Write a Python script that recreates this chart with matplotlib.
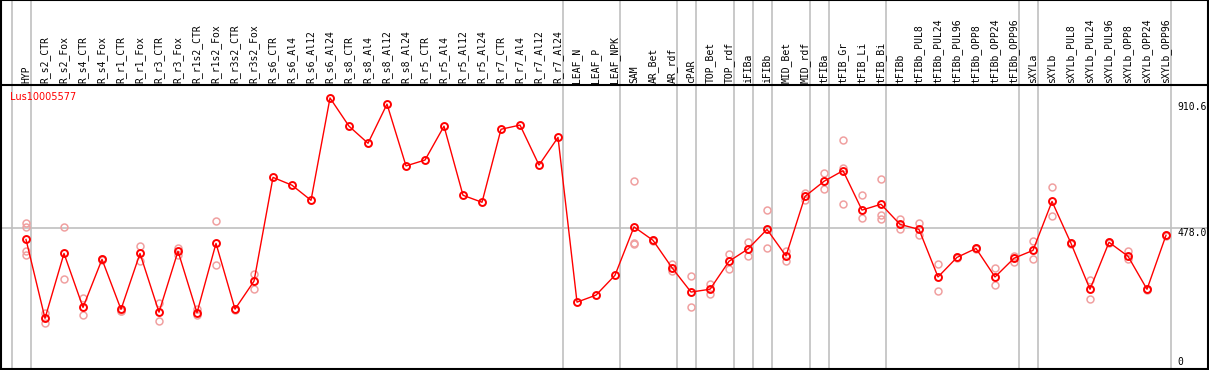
import numpy as np
from matplotlib import pyplot as plt

# Categories (x axis), in drawing order
samples = [
    "HYP", "R_s2_CTR", "R_s2_Fox", "R_s4_CTR", "R_s4_Fox", "R_r1_CTR", "R_r1_Fox",
    "R_r3_CTR", "R_r3_Fox", "R_r1s2_CTR", "R_r1s2_Fox", "R_r3s2_CTR", "R_r3s2_Fox",
    "R_s6_CTR", "R_s6_Al4", "R_s6_Al12", "R_s6_Al24", "R_s8_CTR", "R_s8_Al4",
    "R_s8_Al12", "R_s8_Al24", "R_r5_CTR", "R_r5_Al4", "R_r5_Al12", "R_r5_Al24",
    "R_r7_CTR", "R_r7_Al4", "R_r7_Al12", "R_r7_Al24", "LEAF_N", "LEAF_P", "LEAF_NPK",
    "SAM", "AR_Bet", "AR_rdf", "cPAR", "TOP_Bet", "TOP_rdf", "iFIBa", "iFIBb",
    "MID_Bet", "MID_rdf", "tFIBa", "tFIB_Gr", "tFIB_Li", "tFIB_Bi", "tFIBb",
    "tFIBb_PUL8", "tFIBb_PUL24", "tFIBb_PUL96", "tFIBb_OPP8", "tFIBb_OPP24",
    "tFIBb_OPP96", "sXYLa", "sXYLb", "sXYLb_PUL8", "sXYLb_PUL24", "sXYLb_PUL96",
    "sXYLb_OPP8", "sXYLb_OPP24", "sXYLb_OPP96",
]

# Mean expression per sample
mean_expr = [
    437, 155, 387, 194, 366, 187, 387, 177, 395, 175, 423, 188, 288,
    659, 631, 577, 943, 842, 781, 921, 700, 721, 842, 595, 570, 831, 846, 703, 802,
    213, 238, 309,
    482, 434, 336, 249, 259, 359, 403, 473, 378, 591, 645, 683, 542, 563, 491,
    473, 303, 373, 405, 303, 370, 398, 573, 423, 259, 427, 377, 259, 452,
]

nan = np.nan
# Individual replicates (nan = no replicate shown)
rep1 = [497, 173, 480, 227, 368, 183, 414, 209, 406, 187, 502, 190, 313,
        nan, nan, nan, nan, nan, nan, nan, nan, nan, nan, nan, nan, nan, nan, nan, nan,
        nan, nan, nan,
        645, 436, 350, 306, 279, 385, 427, 541, 395, 604, 673, 791, 595, 653, 509,
        495, 348, 375, 407, 334, 379, 430, 623, 425, 292, 429, 397, 261, 454]
rep2 = [483, 139, 295, 166, 364, 180, 361, 144, 380, 168, 345, 186, 261,
        nan, nan, nan, nan, nan, nan, nan, nan, nan, nan, nan, nan, nan, nan, nan, nan,
        nan, nan, nan,
        425, 432, 323, 194, 241, 330, 379, 405, 360, 579, 616, 692, 513, 524, 475,
        452, 253, 371, 403, 273, 356, 366, 520, 420, 225, 425, 367, 257, 450]
rep3 = [397, nan, nan, nan, nan, nan, nan, nan, nan, nan, nan, nan, nan,
        nan, nan, nan, nan, nan, nan, nan, nan, nan, nan, nan, nan, nan, nan, nan, nan,
        nan, nan, nan,
        421, nan, nan, nan, nan, nan, nan, nan, nan, nan, nan, 563, nan, 509, nan,
        nan, nan, nan, nan, nan, nan, nan, nan, nan, nan, nan, nan, nan, nan]
rep4 = [382] + [nan] * 60

# Groups end after these sample indices (-1 = before the first)
group_ends = [-1, 0, 28, 31, 34, 35, 37, 38, 39, 41, 42, 45, 52, 53, 60]

y_ticks = [910.6, 478.0, 0]
y_tick_labels = ["910.6", "478.0", "0"]
gene = "Lus10005577"

x = np.arange(len(samples))

fig = plt.figure(figsize=(12.09, 3.70), dpi=100)
ax = fig.add_axes([1 / 1209, 1 / 370, 1207 / 1209, 369 / 370])
ax.set_xlim(-1.316, 62.21)
ax.set_ylim(-26.1, 1293.2)
ax.set_xticks([])
ax.set_yticks([])
for s in ax.spines.values():
    s.set_color("black")
    s.set_linewidth(1.5)

# grid lines
for g in group_ends:
    ax.axvline(g + 0.25, color="#c0c0c0", lw=1.2, zorder=1)
ax.axhline(478.0, color="#c0c0c0", lw=1.2, zorder=1)
ax.axhline(989.3, color="black", lw=1.5, zorder=2)

# replicates
for rep in (rep1, rep2, rep3, rep4):
    ax.plot(x, rep, linestyle="none", marker="o", markersize=5,
            markerfacecolor="none", markeredgecolor="#f0a0a0", markeredgewidth=1.1, zorder=3)

# mean line
ax.plot(x, mean_expr, color="red", lw=1.0, marker="o", markersize=5,
        markerfacecolor="none", markeredgecolor="red", markeredgewidth=1.4, zorder=4)

# sample labels
for xi, name in zip(x, samples):
    ax.text(xi, 996.4, name, rotation=90, ha="center", va="bottom",
            fontsize=7, family="DejaVu Sans Mono", color="black")

# value labels on the right
for val, lab in zip(y_ticks, y_tick_labels):
    ax.text(60.6, val, lab, ha="left", va="top" if lab == "478.0" else "center",
            fontsize=7, family="DejaVu Sans Mono", color="black")

ax.text(-0.85, 946, gene, ha="left", va="center", fontsize=7, color="red")

plt.savefig("out.png", dpi=100)
